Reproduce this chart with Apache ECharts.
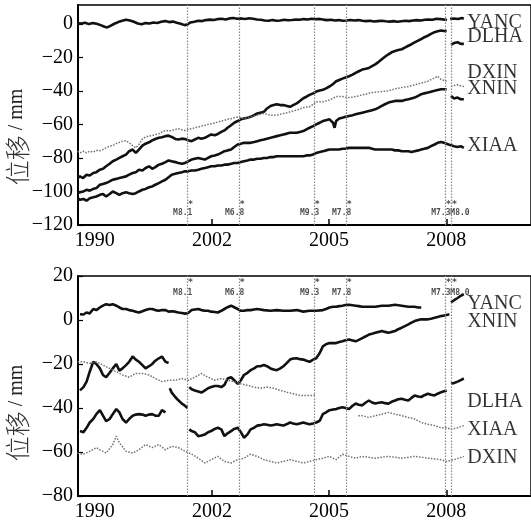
<!DOCTYPE html>
<html><head><meta charset="utf-8">
<script src="https://cdn.jsdelivr.net/npm/echarts@6/dist/echarts.min.js"></script>
<style>html,body{margin:0;padding:0;background:#fff}#c{width:531px;height:522px}</style>
</head><body><div id="c"></div>
<script>
// ---------- tick labels / categories ----------
const xTickValues = [1999, 2002, 2005, 2008];
const xTickLabels = ['1990', '2002', '2005', '2008'];
const xMajorTicks = [2002, 2005, 2008];
const topYTicks = [-120, -100, -80, -60, -40, -20, 0];
const bottomYTicks = [-80, -60, -40, -20, 0, 20];
const yAxisName = ['位移', ' / mm'];

// earthquakes
const quakeNames = ['M8.1', 'M6.8', 'M9.3', 'M7.8', 'M7.3', 'M8.0'];
const quakeYears = [2001.37, 2002.70, 2004.62, 2005.44, 2007.98, 2008.13];

// station labels (right side)
const topStations = ['YANC', 'DLHA', 'DXIN', 'XNIN', 'XIAA'];
const topStationLabelY = [0.5, -8, -29, -39, -73];
const bottomStations = ['YANC', 'XNIN', 'DLHA', 'XIAA', 'DXIN'];
const bottomStationLabelY = [7.5, -1, -37, -50, -62.5];

// ---------- top panel series ----------
const top_YANC = [[1998.56,0.5],[1998.65,0.2],[1998.75,0.6],[1998.85,-0.2],[1998.95,0.4],[1999.05,0],[1999.15,-0.8],[1999.25,-1.8],[1999.32,-2.2],[1999.4,-1.2],[1999.5,0],[1999.6,1],[1999.7,1.8],[1999.8,2.4],[1999.9,2],[2000.0,1.2],[2000.1,0.2],[2000.2,-0.3],[2000.3,0.4],[2000.4,0.2],[2000.5,0.8],[2000.6,0.5],[2000.7,1.2],[2000.8,1.6],[2000.9,1],[2001.0,1.3],[2001.1,0.6],[2001.2,0],[2001.3,-0.8],[2001.38,-0.3],[2001.45,0.8],[2001.55,1.2],[2001.65,1.8],[2001.75,1.6],[2001.85,2.2],[2001.95,2.5],[2002.05,2.3],[2002.15,2.8],[2002.25,3],[2002.35,2.6],[2002.45,3.2],[2002.55,3.4],[2002.65,3],[2002.75,3.2],[2002.85,2.8],[2002.95,3.3],[2003.05,3],[2003.15,2.6],[2003.25,2.4],[2003.35,2],[2003.45,1.8],[2003.55,2.2],[2003.65,1.8],[2003.75,2],[2003.85,2.4],[2003.95,2.1],[2004.05,2.3],[2004.15,2.6],[2004.25,2.4],[2004.35,2.8],[2004.45,2.6],[2004.55,3],[2004.65,2.7],[2004.75,2.9],[2004.85,2.5],[2004.95,2.2],[2005.05,2.4],[2005.15,2],[2005.25,2.2],[2005.35,1.8],[2005.45,2],[2005.55,2.3],[2005.65,2],[2005.75,2.2],[2005.85,1.8],[2005.95,1.6],[2006.05,1.8],[2006.15,1.4],[2006.25,1.6],[2006.35,1.8],[2006.45,1.5],[2006.55,1.3],[2006.65,1.6],[2006.75,1.2],[2006.85,1.5],[2006.95,1.8],[2007.05,1.6],[2007.15,2],[2007.25,2.2],[2007.35,2],[2007.45,2.4],[2007.55,2.6],[2007.65,2.4],[2007.75,3],[2007.85,2.8],[2007.95,2.5],[2008.02,2.3],[2008.06,null],[2008.1,2.8],[2008.2,3.2],[2008.3,2.8],[2008.4,3.4],[2008.45,3]];

const top_DLHA = [[1998.56,-92],[1998.62,-91],[1998.7,-92],[1998.79,-90],[1998.87,-90.5],[1998.96,-89],[1999.04,-88.5],[1999.13,-87],[1999.21,-86.5],[1999.29,-85],[1999.38,-83.5],[1999.46,-82],[1999.55,-81],[1999.63,-80],[1999.71,-79],[1999.8,-78],[1999.88,-76],[1999.97,-75],[2000.05,-77],[2000.13,-75],[2000.22,-72.7],[2000.3,-71.5],[2000.39,-70.7],[2000.47,-69.5],[2000.55,-68.7],[2000.64,-68],[2000.72,-67.7],[2000.81,-67],[2000.89,-66.7],[2000.97,-67.5],[2001.06,-68.7],[2001.14,-69],[2001.23,-68.5],[2001.31,-68.7],[2001.39,-69.5],[2001.48,-70],[2001.56,-69],[2001.65,-68],[2001.73,-68.5],[2001.82,-68],[2001.9,-67],[2001.98,-66],[2002.07,-66.5],[2002.15,-65.7],[2002.24,-64.5],[2002.32,-63.6],[2002.4,-62],[2002.49,-60.5],[2002.57,-59],[2002.66,-58],[2002.74,-57],[2002.82,-56.5],[2002.91,-56],[2002.99,-55.5],[2003.08,-54.5],[2003.16,-53.5],[2003.24,-53],[2003.33,-52.5],[2003.41,-50.5],[2003.5,-49],[2003.58,-48.5],[2003.66,-48],[2003.75,-48.5],[2003.83,-48.5],[2003.92,-49],[2004.0,-49.5],[2004.08,-48.5],[2004.17,-47.5],[2004.25,-46],[2004.34,-44.4],[2004.42,-43.5],[2004.5,-42.4],[2004.59,-41.5],[2004.67,-40.4],[2004.76,-39.8],[2004.84,-39.4],[2004.92,-38.5],[2005.01,-37.4],[2005.1,-36],[2005.18,-34.3],[2005.26,-33.5],[2005.34,-32.7],[2005.42,-32],[2005.51,-31.3],[2005.6,-30.3],[2005.68,-29.3],[2005.76,-28.3],[2005.85,-27.3],[2005.94,-26.8],[2006.02,-26.3],[2006.1,-25.3],[2006.18,-24.2],[2006.27,-22.7],[2006.35,-21.2],[2006.43,-19.7],[2006.52,-18.2],[2006.6,-17],[2006.69,-16.2],[2006.77,-15.7],[2006.86,-15.2],[2006.94,-14.2],[2007.03,-13.1],[2007.11,-12.2],[2007.19,-11.1],[2007.28,-10],[2007.36,-9.1],[2007.44,-8],[2007.53,-7.1],[2007.61,-6],[2007.7,-5],[2007.78,-4.5],[2007.87,-4],[2007.94,-4.3],[2008.01,-4.4],[2008.06,null],[2008.12,-12.5],[2008.2,-11.5],[2008.29,-11],[2008.37,-12],[2008.45,-12]];

const top_DXIN = [[1998.56,-76],[1998.62,-77],[1998.71,-76],[1998.79,-77],[1998.87,-76],[1998.96,-76.5],[1999.04,-75.5],[1999.13,-75.7],[1999.21,-75],[1999.29,-74],[1999.38,-73],[1999.46,-72.7],[1999.55,-71.5],[1999.63,-70.7],[1999.71,-70],[1999.8,-69.7],[1999.88,-71],[1999.97,-72.7],[2000.05,-74],[2000.13,-72],[2000.22,-68.7],[2000.3,-67.5],[2000.39,-67],[2000.47,-66.7],[2000.55,-66],[2000.64,-65.6],[2000.72,-64.5],[2000.81,-63.6],[2000.89,-63.8],[2000.97,-63.6],[2001.06,-63],[2001.14,-62.6],[2001.23,-63.2],[2001.31,-63.6],[2001.39,-63],[2001.48,-62.6],[2001.56,-62],[2001.65,-61.6],[2001.73,-61],[2001.82,-60.6],[2001.9,-60],[2001.98,-59.6],[2002.07,-59.2],[2002.15,-58.6],[2002.24,-58],[2002.32,-57.6],[2002.4,-57],[2002.49,-56.6],[2002.57,-56],[2002.66,-55.6],[2002.74,-56],[2002.82,-56.6],[2002.91,-56],[2002.99,-55.5],[2003.08,-55],[2003.16,-54.5],[2003.24,-54],[2003.33,-53.5],[2003.41,-54],[2003.5,-54.5],[2003.58,-54.5],[2003.66,-54.5],[2003.75,-54],[2003.83,-53.5],[2003.92,-53],[2004.0,-52.5],[2004.08,-52],[2004.17,-51.5],[2004.25,-50.8],[2004.34,-50.1],[2004.42,-49.8],[2004.5,-49.5],[2004.59,-48],[2004.67,-46.5],[2004.76,-46.5],[2004.84,-46.5],[2004.92,-46],[2005.01,-45.5],[2005.1,-44.5],[2005.18,-43.4],[2005.26,-43.4],[2005.34,-43.4],[2005.42,-43.7],[2005.51,-44],[2005.6,-43.7],[2005.68,-43.4],[2005.76,-43],[2005.85,-42.4],[2005.94,-42],[2006.02,-41.4],[2006.1,-41],[2006.18,-40.8],[2006.27,-40.6],[2006.35,-40.4],[2006.43,-40.2],[2006.52,-40],[2006.6,-39.4],[2006.69,-38.8],[2006.77,-38.4],[2006.86,-38],[2006.94,-37.7],[2007.03,-37.4],[2007.11,-36.9],[2007.19,-36.4],[2007.28,-35.9],[2007.36,-35.4],[2007.44,-34.9],[2007.53,-34.3],[2007.61,-33.3],[2007.7,-32.3],[2007.78,-31.3],[2007.87,-33.3],[2007.94,-33.8],[2008.01,-34.3],[2008.06,null],[2008.12,-37.4],[2008.2,-36.8],[2008.29,-36.4],[2008.37,-37],[2008.45,-37.4]];

const top_XNIN = [[1998.56,-101],[1998.62,-100.5],[1998.71,-100],[1998.79,-99],[1998.87,-99.5],[1998.96,-98.5],[1999.04,-98],[1999.13,-96],[1999.21,-95.5],[1999.29,-95],[1999.38,-94],[1999.46,-93],[1999.55,-92.5],[1999.63,-92],[1999.71,-91.5],[1999.8,-91],[1999.88,-90],[1999.97,-89],[2000.05,-88.5],[2000.13,-87],[2000.22,-87.5],[2000.3,-86],[2000.39,-85],[2000.47,-86.5],[2000.55,-85.5],[2000.64,-84],[2000.72,-83.5],[2000.81,-82.5],[2000.89,-81.5],[2000.97,-82],[2001.06,-82.5],[2001.14,-83],[2001.23,-83.5],[2001.31,-83],[2001.39,-82],[2001.48,-81],[2001.56,-80.5],[2001.65,-80],[2001.73,-80.5],[2001.82,-81],[2001.9,-80],[2001.98,-79],[2002.07,-78.5],[2002.15,-78],[2002.24,-77],[2002.32,-76],[2002.4,-75.5],[2002.49,-75],[2002.57,-73.5],[2002.66,-72],[2002.74,-71.5],[2002.82,-71],[2002.91,-71],[2002.99,-71],[2003.08,-70.5],[2003.16,-70],[2003.24,-69.5],[2003.33,-69],[2003.41,-68.5],[2003.5,-68],[2003.58,-67.5],[2003.66,-67],[2003.75,-66.5],[2003.83,-66],[2003.92,-65.5],[2004.0,-65],[2004.08,-65],[2004.17,-65],[2004.25,-64.5],[2004.34,-64],[2004.42,-63],[2004.5,-62],[2004.59,-61],[2004.67,-60],[2004.76,-59],[2004.84,-58],[2004.92,-57.5],[2005.01,-57],[2005.1,-59],[2005.14,-62],[2005.18,-58],[2005.26,-56.5],[2005.34,-56],[2005.42,-55.5],[2005.51,-55],[2005.6,-54.5],[2005.68,-54],[2005.76,-53.5],[2005.85,-53],[2005.94,-52.5],[2006.02,-52],[2006.1,-51.5],[2006.18,-51],[2006.27,-50],[2006.35,-49],[2006.43,-48],[2006.52,-47],[2006.6,-46.5],[2006.69,-46],[2006.77,-46],[2006.86,-46],[2006.94,-45.5],[2007.03,-45],[2007.11,-44.5],[2007.19,-44],[2007.28,-43],[2007.36,-42],[2007.44,-41.5],[2007.53,-41],[2007.61,-40.5],[2007.7,-40],[2007.78,-39.5],[2007.87,-39],[2007.94,-39],[2008.01,-39],[2008.06,null],[2008.12,-43],[2008.2,-44.5],[2008.29,-44],[2008.37,-45],[2008.45,-45]];

const top_XIAA = [[1998.56,-104],[1998.62,-105],[1998.71,-104.5],[1998.79,-105.5],[1998.87,-104],[1998.96,-103.5],[1999.04,-103],[1999.13,-102],[1999.21,-101.5],[1999.29,-103],[1999.38,-101.5],[1999.46,-100],[1999.55,-101],[1999.63,-102],[1999.71,-101],[1999.8,-100.5],[1999.88,-101],[1999.97,-101.5],[2000.05,-101],[2000.13,-100],[2000.22,-99],[2000.3,-98.5],[2000.39,-97.5],[2000.47,-97],[2000.55,-96],[2000.64,-95],[2000.72,-94],[2000.81,-93],[2000.89,-91.5],[2000.97,-90],[2001.06,-89.5],[2001.14,-89],[2001.23,-88.5],[2001.31,-88],[2001.39,-88],[2001.48,-87.5],[2001.56,-87.5],[2001.65,-87],[2001.73,-86.5],[2001.82,-86],[2001.9,-85.5],[2001.98,-85],[2002.07,-85],[2002.15,-84.5],[2002.24,-84.5],[2002.32,-84],[2002.4,-84],[2002.49,-83.5],[2002.57,-83],[2002.66,-83],[2002.74,-82.5],[2002.82,-82],[2002.91,-81.5],[2002.99,-81],[2003.08,-81],[2003.16,-80.5],[2003.24,-80.5],[2003.33,-80],[2003.41,-80],[2003.5,-79.5],[2003.58,-79.5],[2003.66,-79],[2003.75,-79],[2003.83,-79],[2003.92,-79],[2004.0,-79],[2004.08,-79],[2004.17,-79],[2004.25,-79],[2004.34,-79],[2004.42,-78.5],[2004.5,-78.5],[2004.59,-78],[2004.67,-77],[2004.76,-76.5],[2004.84,-76],[2004.92,-75.5],[2005.01,-75],[2005.1,-75],[2005.18,-75],[2005.26,-75],[2005.34,-74.5],[2005.42,-74.5],[2005.51,-74],[2005.6,-74],[2005.68,-74],[2005.76,-74],[2005.85,-74],[2005.94,-74],[2006.02,-74],[2006.1,-74.5],[2006.18,-75],[2006.27,-75],[2006.35,-75],[2006.43,-75],[2006.52,-75],[2006.6,-75],[2006.69,-75.5],[2006.77,-75.5],[2006.86,-76],[2006.94,-76],[2007.03,-76],[2007.11,-76.5],[2007.19,-76],[2007.28,-75.5],[2007.36,-75],[2007.44,-74.5],[2007.53,-74],[2007.61,-73],[2007.7,-72],[2007.78,-71],[2007.87,-70.5],[2007.94,-71],[2008.01,-71.5],[2008.06,-72],[2008.12,-72.5],[2008.2,-73],[2008.29,-73.5],[2008.37,-73],[2008.45,-74]];

// ---------- bottom panel series ----------
const bot_YANC = [[1998.62,2.6],[1998.71,2.5],[1998.79,3.4],[1998.87,3],[1998.96,5],[1999.04,4.5],[1999.13,5.7],[1999.21,6.5],[1999.29,7.2],[1999.38,6.8],[1999.46,7.2],[1999.55,6.5],[1999.63,5.7],[1999.71,5],[1999.8,5],[1999.88,4.5],[1999.97,4.2],[2000.05,3.8],[2000.13,3.4],[2000.22,4],[2000.3,4.5],[2000.39,5],[2000.47,5],[2000.55,4.5],[2000.64,4.2],[2000.72,4.5],[2000.81,4.5],[2000.89,3.8],[2000.97,4],[2001.06,3.8],[2001.14,3.4],[2001.23,3.2],[2001.31,2.9],[2001.39,3.2],[2001.48,4.5],[2001.56,4.8],[2001.65,5],[2001.73,4.5],[2001.82,4.2],[2001.9,4.2],[2001.98,3.8],[2002.07,3.6],[2002.15,3.4],[2002.24,4.2],[2002.32,5],[2002.4,5.8],[2002.49,6.5],[2002.57,5.8],[2002.66,5],[2002.74,4.2],[2002.82,4.2],[2002.91,4.5],[2002.99,4.5],[2003.08,4.8],[2003.16,5],[2003.24,4.8],[2003.33,4.5],[2003.5,4.2],[2003.66,4.5],[2003.83,4.2],[2004.0,4.2],[2004.17,4.5],[2004.34,3.8],[2004.5,4.2],[2004.67,4.2],[2004.84,4.5],[2004.92,5],[2005.01,5.7],[2005.1,6],[2005.18,6],[2005.26,6.3],[2005.34,6.5],[2005.42,6.8],[2005.51,6.9],[2005.6,6.7],[2005.68,6.5],[2005.76,6.3],[2005.85,6],[2006.02,6],[2006.18,6],[2006.35,6.5],[2006.52,6.5],[2006.69,6.9],[2006.86,6.5],[2007.03,6],[2007.19,6],[2007.28,5.7],[2007.36,5.7],[2007.45,null],[2008.12,8],[2008.2,9],[2008.29,10],[2008.37,11],[2008.45,11.8]];

const bot_XNIN = [[1998.62,-32],[1998.71,-30.5],[1998.79,-28],[1998.87,-23.5],[1998.96,-19],[1999.04,-20],[1999.13,-22],[1999.21,-25],[1999.29,-26],[1999.38,-24],[1999.46,-22],[1999.55,-20],[1999.63,-23],[1999.71,-22],[1999.8,-20.5],[1999.88,-19],[1999.97,-16.6],[2000.05,-18],[2000.13,-19],[2000.22,-20.5],[2000.3,-22],[2000.39,-21],[2000.47,-20],[2000.55,-18.5],[2000.64,-17.4],[2000.72,-16.6],[2000.81,-19],[2000.89,-19.5],[2000.9,null],[2000.92,-31],[2000.97,-33],[2001.06,-35],[2001.14,-36.5],[2001.23,-38],[2001.31,-39],[2001.37,-40],[2001.4,null],[2001.42,-30.5],[2001.48,-31.5],[2001.56,-32],[2001.65,-32.5],[2001.73,-33],[2001.82,-32],[2001.9,-31],[2001.98,-30.5],[2002.07,-30],[2002.15,-30],[2002.24,-30.5],[2002.32,-29.5],[2002.4,-26.6],[2002.49,-26],[2002.57,-27.4],[2002.66,-29],[2002.74,-27.4],[2002.82,-25],[2002.91,-24],[2002.99,-22.8],[2003.08,-22],[2003.16,-21],[2003.24,-21],[2003.33,-20.5],[2003.41,-21],[2003.5,-22],[2003.58,-22.5],[2003.66,-22.8],[2003.75,-22],[2003.83,-21],[2003.92,-19.5],[2004.0,-18],[2004.08,-17.5],[2004.17,-17.4],[2004.25,-17.8],[2004.34,-18],[2004.42,-18.5],[2004.5,-19],[2004.59,-18],[2004.67,-17.4],[2004.76,-15],[2004.84,-12],[2004.92,-11],[2005.01,-10.5],[2005.1,-10.5],[2005.18,-10.5],[2005.26,-10],[2005.34,-9.7],[2005.42,-9.2],[2005.51,-8.9],[2005.6,-9.3],[2005.68,-9.7],[2005.76,-9],[2005.85,-8.2],[2005.94,-7.4],[2006.02,-6.6],[2006.1,-6.2],[2006.18,-5.8],[2006.27,-5.4],[2006.35,-5],[2006.43,-5.4],[2006.52,-5.8],[2006.6,-5.4],[2006.69,-5],[2006.77,-4.2],[2006.86,-3.5],[2006.94,-2.8],[2007.03,-2],[2007.11,-1.2],[2007.19,-0.5],[2007.28,0],[2007.36,0.3],[2007.44,0.3],[2007.53,0.3],[2007.61,0.6],[2007.7,1],[2007.78,1.4],[2007.87,1.8],[2007.94,2],[2008.01,2.3],[2008.08,2.6]];

const bot_DLHA = [[1998.62,-50.5],[1998.71,-51],[1998.79,-49],[1998.87,-46.6],[1998.96,-45],[1999.04,-42.8],[1999.13,-41],[1999.21,-43.5],[1999.29,-46],[1999.38,-45],[1999.46,-42.8],[1999.55,-40.5],[1999.63,-42],[1999.71,-45],[1999.8,-46.6],[1999.88,-45],[1999.97,-43.5],[2000.05,-43],[2000.13,-42.8],[2000.22,-43],[2000.3,-43.5],[2000.39,-43],[2000.47,-42.8],[2000.55,-43.5],[2000.64,-43.5],[2000.72,-41],[2000.81,-42],[2000.85,null],[2001.42,-49.7],[2001.48,-50.5],[2001.56,-51],[2001.65,-52.8],[2001.73,-52.5],[2001.82,-52],[2001.9,-51],[2001.98,-50.5],[2002.07,-49.5],[2002.15,-49],[2002.24,-49.7],[2002.32,-52.8],[2002.4,-51.5],[2002.49,-50.5],[2002.57,-49.5],[2002.66,-49],[2002.74,-51],[2002.82,-53.5],[2002.91,-52],[2002.99,-49.7],[2003.08,-49],[2003.16,-48],[2003.24,-47.8],[2003.33,-47.4],[2003.41,-47.6],[2003.5,-48],[2003.58,-47.7],[2003.66,-47.4],[2003.75,-47.7],[2003.83,-48],[2003.92,-47.3],[2004.0,-46.6],[2004.08,-47],[2004.17,-47.4],[2004.25,-47],[2004.34,-46.6],[2004.42,-47],[2004.5,-47.4],[2004.59,-47],[2004.67,-46.6],[2004.76,-45.8],[2004.84,-42.8],[2004.92,-42],[2005.01,-41],[2005.1,-40.7],[2005.18,-40.5],[2005.26,-40],[2005.34,-39.7],[2005.42,-40],[2005.51,-40.5],[2005.6,-39],[2005.68,-38],[2005.76,-38.5],[2005.85,-38.8],[2005.94,-37.5],[2006.02,-36.6],[2006.1,-37.5],[2006.18,-38],[2006.27,-37.6],[2006.35,-37.4],[2006.43,-37.8],[2006.52,-38],[2006.6,-37.2],[2006.69,-36.6],[2006.77,-36],[2006.86,-35.8],[2006.94,-36.2],[2007.03,-36.6],[2007.11,-35.4],[2007.19,-34.3],[2007.28,-34.8],[2007.36,-35],[2007.44,-34.2],[2007.53,-33.5],[2007.61,-34],[2007.7,-34.3],[2007.78,-33.5],[2007.87,-32.8],[2007.94,-32.4],[2008.01,-32],[2008.06,null],[2008.12,-29],[2008.2,-28.6],[2008.29,-28],[2008.37,-27.3],[2008.45,-26.6]];

const bot_XIAA = [[1998.56,-19],[1998.71,-19],[1998.87,-19.7],[1999.04,-19],[1999.21,-20.5],[1999.38,-22],[1999.55,-23.5],[1999.71,-25],[1999.88,-26],[2000.05,-24.3],[2000.22,-24.3],[2000.39,-25],[2000.55,-26.6],[2000.72,-28],[2000.89,-27.4],[2001.06,-27.4],[2001.23,-26.6],[2001.39,-27.4],[2001.56,-26],[2001.73,-24.3],[2001.9,-26],[2002.07,-27.4],[2002.24,-26.6],[2002.4,-27.4],[2002.57,-28],[2002.74,-29],[2002.91,-29.7],[2003.08,-30.5],[2003.24,-31],[2003.41,-30.5],[2003.58,-31],[2003.75,-32],[2003.92,-32.8],[2004.08,-33.5],[2004.25,-34.3],[2004.42,-34.3],[2004.59,-34.3],[2004.64,-34],[2004.7,null],[2005.75,-43.5],[2005.85,-43.5],[2006.02,-44.3],[2006.18,-43.5],[2006.35,-42.8],[2006.52,-42],[2006.69,-42.8],[2006.86,-43.5],[2007.03,-44.3],[2007.19,-45],[2007.36,-46.6],[2007.53,-47.4],[2007.7,-48],[2007.87,-49],[2008.01,-49],[2008.12,-49.7],[2008.29,-49],[2008.45,-48]];

const bot_DXIN = [[1998.56,-60.5],[1998.71,-61],[1998.87,-59.7],[1999.04,-58],[1999.13,-59],[1999.29,-60.5],[1999.46,-56.6],[1999.55,-52.8],[1999.63,-55.8],[1999.8,-59.7],[1999.97,-60.5],[2000.13,-59],[2000.3,-56.6],[2000.47,-58],[2000.64,-56.6],[2000.81,-59],[2000.97,-57.4],[2001.14,-58],[2001.31,-59.7],[2001.48,-61],[2001.65,-62.8],[2001.82,-65],[2001.98,-63.5],[2002.15,-62],[2002.32,-64.3],[2002.49,-65],[2002.66,-63.5],[2002.82,-62.8],[2002.99,-61],[2003.16,-62],[2003.33,-63.5],[2003.5,-64.3],[2003.66,-65],[2003.83,-64.3],[2004.0,-63.5],[2004.17,-64.3],[2004.34,-65],[2004.5,-64.3],[2004.67,-63.5],[2004.84,-62.8],[2005.01,-62],[2005.18,-63.5],[2005.34,-61],[2005.51,-62],[2005.68,-62.8],[2005.85,-62],[2006.18,-62.8],[2006.52,-62],[2006.86,-62.8],[2007.19,-62],[2007.53,-62.8],[2007.87,-63.5],[2008.01,-64.3],[2008.2,-63.5],[2008.45,-62]];

// ---------- layout / style ----------
const X_MIN = 1998.57, X_MAX = 2010.17;
const DARK = {color: '#111', width: 2.6};
const LIGHT = {color: '#707070', width: 1.5, type: [1.5, 1.5]};
const serif = 'Liberation Serif';

function lineSeries(name, data, panel, style) {
  return {name, type: 'line', xAxisIndex: panel, yAxisIndex: panel, data,
    showSymbol: false, connectNulls: false, silent: true, z: 3,
    lineStyle: Object.assign({}, style)};
}

function quakeSeries(panel, labelV, starV) {
  return [{
    type: 'scatter', xAxisIndex: panel, yAxisIndex: panel, symbolSize: 0, silent: true, z: 4,
    data: quakeYears.map((yr, i) => ({value: [yr, labelV], name: quakeNames[i],
      label: i === quakeNames.length - 1 ? {align: 'left', offset: [-1, 0]} : {align: 'right', offset: [5, 0]}})),
    label: {show: true, position: 'inside', formatter: p => p.name,
      fontFamily: 'DejaVu Sans Mono', fontWeight: 'bold', fontSize: 8, color: '#222'},
    markLine: {silent: true, symbol: 'none', label: {show: false},
      lineStyle: {color: '#888', width: 1.2, type: [1.5, 1.5]},
      data: quakeYears.map(yr => ({xAxis: yr}))}
  }, {
    type: 'scatter', xAxisIndex: panel, yAxisIndex: panel, symbolSize: 0, silent: true, z: 4,
    data: quakeYears.map(yr => [yr, starV]),
    label: {show: true, position: 'inside', offset: [3, 0], formatter: '*',
      fontFamily: 'DejaVu Sans Mono', fontWeight: 'bold', fontSize: 9, color: '#222'}
  }];
}

function stationLabels(panel, names, vals) {
  return {type: 'scatter', xAxisIndex: panel, yAxisIndex: panel, symbolSize: 0, silent: true, z: 5,
    data: names.map((n, i) => ({value: [2008.54, vals[i]], name: n})),
    label: {show: true, position: 'right', distance: 0, formatter: p => p.name,
      fontFamily: serif, fontSize: 20, color: '#000'}};
}

const minusFmt = v => String(v).replace('-', '\u2212');
function xAxisCfg(i) {
  return {gridIndex: i, type: 'value', min: X_MIN, max: X_MAX,
    splitLine: {show: false},
    axisLine: {show: true, onZero: false, lineStyle: {color: '#000', width: 2}},
    axisTick: {show: true, inside: true, length: 6, customValues: xMajorTicks, lineStyle: {color: '#000', width: 1.5}},
    axisLabel: {customValues: xTickValues, formatter: v => xTickLabels[xTickValues.indexOf(v)],
      fontFamily: serif, fontSize: 20, color: '#000', margin: 6}};
}
function yAxisCfg(i, min, max, ticks) {
  return {gridIndex: i, type: 'value', min, max,
    splitLine: {show: false},
    axisLine: {show: true, onZero: false, lineStyle: {color: '#000', width: 2}},
    axisTick: {show: true, inside: true, length: 5, customValues: ticks, lineStyle: {color: '#000', width: 1.2}},
    axisLabel: {customValues: ticks, formatter: minusFmt, fontFamily: serif, fontSize: 20, color: '#000', margin: 5}};
}

function axisName(cy) {
  return {type: 'text', x: 17, y: cy, rotation: Math.PI / 2, silent: true,
    style: {text: '{c|' + yAxisName[0] + '}{l|' + yAxisName[1] + '}', align: 'center', verticalAlign: 'middle',
      rich: {c: {fontFamily: 'Noto Sans CJK SC', fontSize: 25, fontWeight: 300, fill: '#333'},
             l: {fontFamily: serif, fontSize: 20, fill: '#222'}}}};
}

const chart = echarts.init(document.getElementById('c'), null, {renderer: 'canvas'});
chart.setOption({
  animation: false,
  backgroundColor: '#fff',
  grid: [
    {left: 78, top: 5, width: 470, height: 220, show: true, borderColor: '#000', borderWidth: 1.5, backgroundColor: 'transparent'},
    {left: 78, top: 276, width: 470, height: 222, show: true, borderColor: '#000', borderWidth: 1.5, backgroundColor: 'transparent'}
  ],
  xAxis: [xAxisCfg(0), xAxisCfg(1)],
  yAxis: [yAxisCfg(0, -120, 11.2, topYTicks), yAxisCfg(1, -80, 20, bottomYTicks)],
  graphic: [axisName(137), axisName(413)],
  series: [
    lineSeries('YANC', top_YANC, 0, DARK),
    lineSeries('DLHA', top_DLHA, 0, DARK),
    lineSeries('DXIN', top_DXIN, 0, LIGHT),
    lineSeries('XNIN', top_XNIN, 0, DARK),
    lineSeries('XIAA', top_XIAA, 0, DARK),
    lineSeries('YANC', bot_YANC, 1, DARK),
    lineSeries('XNIN', bot_XNIN, 1, DARK),
    lineSeries('DLHA', bot_DLHA, 1, DARK),
    lineSeries('XIAA', bot_XIAA, 1, LIGHT),
    lineSeries('DXIN', bot_DXIN, 1, LIGHT),
    ...quakeSeries(0, -112.8, -107.8),
    ...quakeSeries(1, 12.3, 16.8),
    stationLabels(0, topStations, topStationLabelY),
    stationLabels(1, bottomStations, bottomStationLabelY)
  ]
});
</script></body></html>
